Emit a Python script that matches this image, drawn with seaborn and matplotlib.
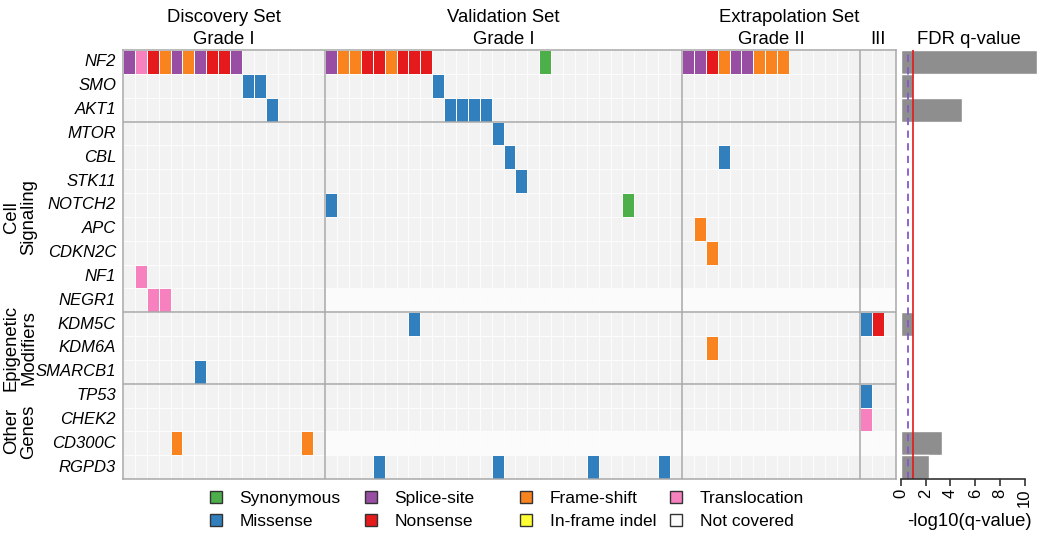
"""Oncoprint of meningioma mutations with FDR q-value panel"""
import matplotlib
matplotlib.use('Agg')
import matplotlib.pyplot as plt
from matplotlib.colors import ListedColormap
from matplotlib.patches import Patch
from matplotlib.transforms import blended_transform_factory
import seaborn as sns
import pandas as pd
import numpy as np

plt.rcParams['font.family'] = ['Liberation Sans', 'DejaVu Sans']

genes = ['NF2', 'SMO', 'AKT1', 'MTOR', 'CBL', 'STK11', 'NOTCH2', 'APC',
         'CDKN2C', 'NF1', 'NEGR1', 'KDM5C', 'KDM6A', 'SMARCB1', 'TP53',
         'CHEK2', 'CD300C', 'RGPD3']

# one string per gene, one character per sample
# . none  S synonymous  M missense  P splice-site  N nonsense
# F frame-shift  I in-frame indel  T translocation  - not covered
discovery = [
    'PTNFPFPNNP.......',
    '..........MM.....',
    '............M....',
    '.................',
    '.................',
    '.................',
    '.................',
    '.................',
    '.................',
    '.T...............',
    '..TT.............',
    '.................',
    '.................',
    '......M..........',
    '.................',
    '.................',
    '....F..........F.',
    '.................',
]
validation = [
    'PFFNNFNNN.........S...........',
    '.........M....................',
    '..........MMMM................',
    '..............M...............',
    '...............M..............',
    '................M.............',
    'M........................S....',
    '..............................',
    '..............................',
    '..............................',
    '------------------------------',
    '.......M......................',
    '..............................',
    '..............................',
    '..............................',
    '..............................',
    '------------------------------',
    '....M.........M.......M.....M.',
]
grade2 = [
    'PPNFPPFFF......',
    '...............',
    '...............',
    '...............',
    '...M...........',
    '...............',
    '...............',
    '.F.............',
    '..F............',
    '...............',
    '---------------',
    '...............',
    '..F............',
    '...............',
    '...............',
    '...............',
    '---------------',
    '...............',
]
grade3 = ['...', '...', '...', '...', '...', '...', '...', '...', '...',
          '...', '---', 'MN.', '...', '...', 'M..', 'T..', '---', '...']

# -log10(FDR q-value), genes without a test left out
q_genes = ['NF2', 'SMO', 'AKT1', 'CDKN2C', 'KDM5C', 'CD300C', 'RGPD3']
q_values = [11.0, 0.94, 4.95, 0.08, 0.94, 3.3, 2.25]

codes = {'.': 0, 'S': 1, 'M': 2, 'P': 3, 'N': 4, 'F': 5, 'I': 6, 'T': 7, '-': 8}
types = ['Synonymous', 'Missense', 'Splice-site', 'Nonsense', 'Frame-shift',
         'In-frame indel', 'Translocation', 'Not covered']
colors = ['#F2F2F2', '#4DAF4A', '#317FBC', '#984EA3', '#E41A1C', '#F8831F',
          '#FFFF33', '#F781BF', '#FBFBFB']

rows = [d + v + g2 + g3 for d, v, g2, g3 in zip(discovery, validation, grade2, grade3)]
mat = pd.DataFrame([[codes[c] for c in r] for r in rows], index=genes)

n_d, n_v, n_2, n_3 = len(discovery[0]), len(validation[0]), len(grade2[0]), len(grade3[0])
sep = '#A8A8A8'

fig = plt.figure(figsize=(10.5, 5.37), dpi=100)
ax = fig.add_axes([123 / 1050, 1 - 479 / 537, 773 / 1050, 429 / 537])
ax2 = fig.add_axes([901 / 1050, 1 - 479 / 537, 136 / 1050, 429 / 537])

sns.heatmap(mat, ax=ax, cmap=ListedColormap(colors), vmin=-0.5, vmax=8.5,
            cbar=False, linewidths=0.5, linecolor='#FCFCFC',
            xticklabels=False, yticklabels=True)
ax.set_yticklabels(genes, rotation=0, fontstyle='italic', fontsize=12)
ax.tick_params(axis='y', length=0, pad=5)
ax.set_xlabel('')
ax.set_ylabel('')
for x in [n_d, n_d + n_v, n_d + n_v + n_2]:
    ax.axvline(x, color=sep, lw=1.1)
for y in [3, 11, 14]:
    ax.axhline(y, color=sep, lw=1.1)
for s in ax.spines.values():
    s.set_visible(True)
    s.set_color(sep)
    s.set_linewidth(1.1)

# column headers
tr = blended_transform_factory(ax.transData, fig.transFigure)
top1, top2 = 1 - 18 / 537, 1 - 40 / 537
hfont = 13.3
ax.text(n_d / 2, top1, 'Discovery Set', transform=tr, ha='center', va='center', fontsize=hfont)
ax.text(n_d / 2, top2, 'Grade I', transform=tr, ha='center', va='center', fontsize=hfont)
ax.text(n_d + n_v / 2, top1, 'Validation Set', transform=tr, ha='center', va='center', fontsize=hfont)
ax.text(n_d + n_v / 2, top2, 'Grade I', transform=tr, ha='center', va='center', fontsize=hfont)
ax.text(n_d + n_v + (n_2 + n_3) / 2, top1, 'Extrapolation Set', transform=tr,
        ha='center', va='center', fontsize=hfont)
ax.text(n_d + n_v + n_2 / 2, top2, 'Grade II', transform=tr, ha='center', va='center', fontsize=hfont)
ax.text(n_d + n_v + n_2 + n_3 / 2, top2, 'III', transform=tr, ha='center', va='center', fontsize=hfont)

# gene group labels
tr_y = blended_transform_factory(fig.transFigure, ax.transData)
for label, y in [('Cell\nSignaling', 7), ('Epigenetic\nModifiers', 12.5), ('Other\nGenes', 16)]:
    ax.text(20 / 1050, y, label, transform=tr_y, rotation=90, ha='center', va='center',
            fontsize=hfont, linespacing=1.05, multialignment='center')

# q-value panel
qdf = pd.DataFrame({'gene': q_genes, 'q': q_values})
sns.barplot(data=qdf, x='q', y='gene', order=genes, orient='h', color='#8E8E8E',
            saturation=1, width=1, edgecolor='white', linewidth=1, errorbar=None, ax=ax2)
ax2.set_xlim(0, 11)
ax2.set_ylim(len(genes) - 0.5, -0.5)
ax2.axvline(-np.log10(0.25), color='#8A56C9', lw=1.3, ls=(0, (4, 3)))
ax2.axvline(1, color='#E41A1C', lw=1.2)
for side in ['top', 'right', 'left']:
    ax2.spines[side].set_visible(False)
ax2.spines['bottom'].set_bounds(0, 10)
ax2.spines['bottom'].set_linewidth(1.2)
ax2.spines['bottom'].set_color('#333333')
ax2.set_xticks(range(0, 11, 2))
ax2.set_xticklabels([str(t) for t in range(0, 11, 2)], rotation=90, fontsize=12)
ax2.tick_params(axis='x', length=5, width=1.2, color='#333333', pad=2)
ax2.set_yticks([])
ax2.set_ylabel('')
ax2.set_xlabel('-log10(q-value)', fontsize=13.3, labelpad=4)
ax2.text(0.5, top2, 'FDR q-value', transform=blended_transform_factory(ax2.transAxes, fig.transFigure),
         ha='center', va='center', fontsize=hfont)

# legend, two entries per column
col_x = [210, 365, 520, 670]
for i, x in enumerate(col_x):
    handles = [Patch(facecolor=colors[k + 1], edgecolor='#333333', linewidth=1)
               for k in (2 * i, 2 * i + 1)]
    fig.legend(handles, types[2 * i:2 * i + 2], loc='center left',
               bbox_to_anchor=(x / 1050, 1 - 510 / 537), frameon=False, fontsize=12.5,
               handlelength=0.7, handleheight=0.7, handletextpad=1.0,
               labelspacing=0.42, borderpad=0, borderaxespad=0)

fig.savefig('out.png', dpi=100)
